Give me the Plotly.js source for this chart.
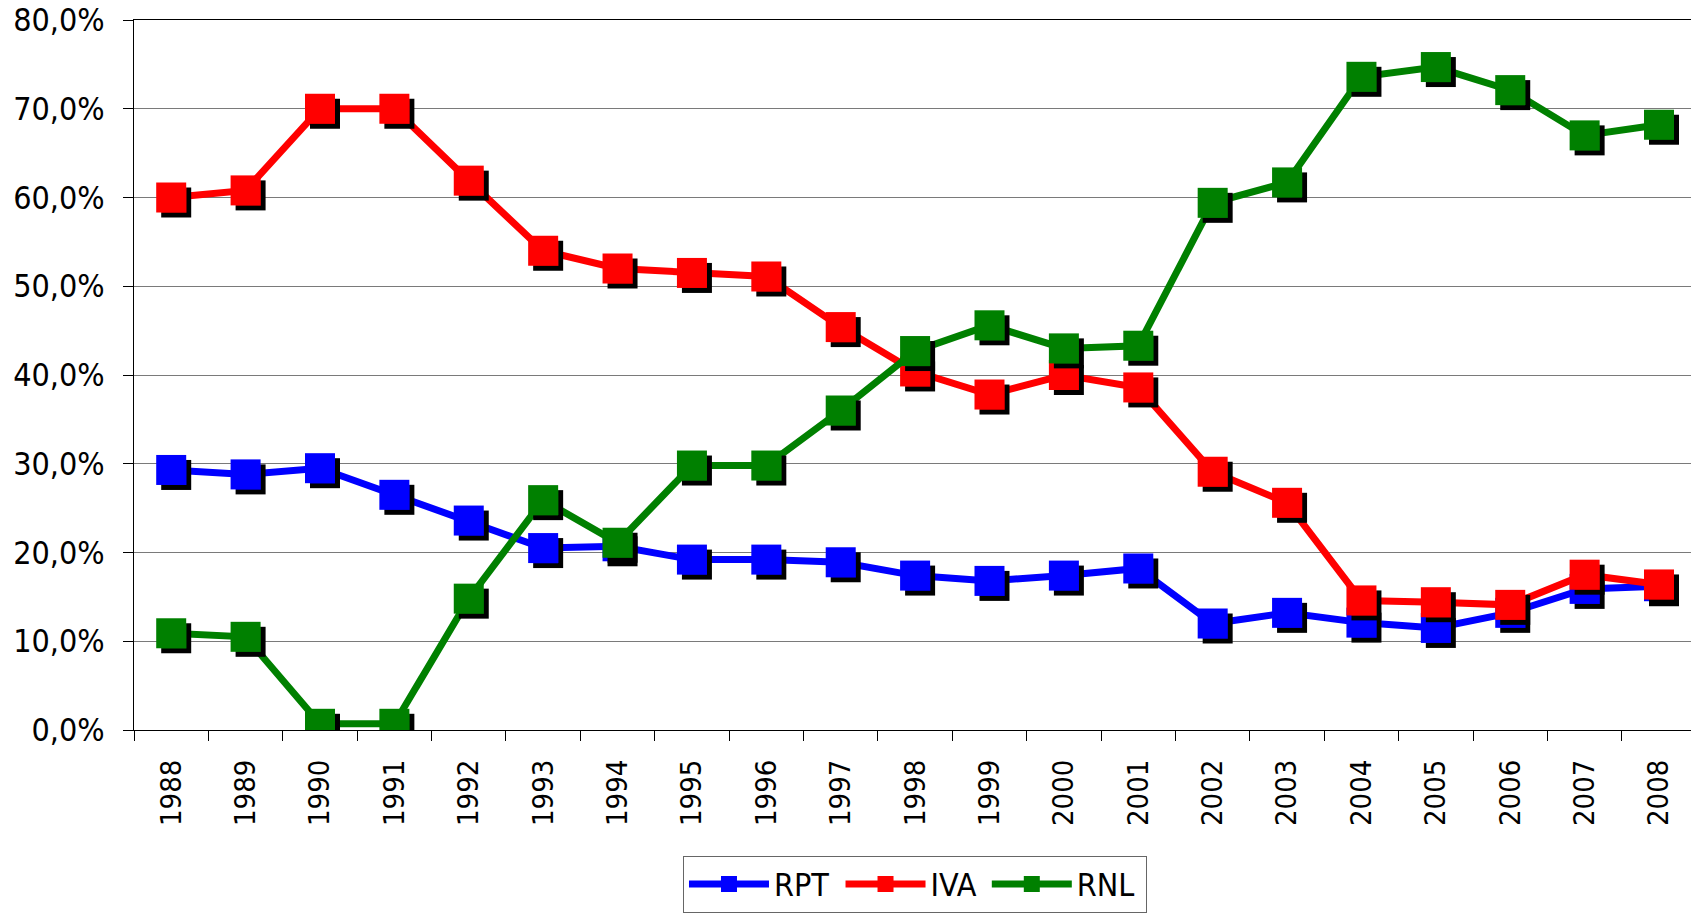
<!DOCTYPE html>
<html>
<head>
<meta charset="utf-8">
<script src="https://cdn.plot.ly/plotly-3.0.1.min.js"></script>
<style>
  html, body { margin: 0; padding: 0; background: #fff; }
  #chart { width: 1691px; height: 913px; }
  #chart svg text { font-stretch: condensed !important; }
</style>
</head>
<body>
<div id="chart"></div>
<script>
const years = ["1988","1989","1990","1991","1992","1993","1994","1995","1996","1997","1998",
               "1999","2000","2001","2002","2003","2004","2005","2006","2007","2008"];
const rpt = [29.3, 28.8, 29.5, 26.5, 23.6, 20.5, 20.7, 19.2, 19.2, 18.9, 17.4,
             16.8, 17.4, 18.2, 12.0, 13.2, 12.1, 11.5, 13.2, 15.9, 16.2];
const iva = [60.0, 60.8, 70.0, 70.0, 61.9, 54.0, 52.0, 51.5, 51.1, 45.4, 40.4,
             37.8, 40.0, 38.6, 29.1, 25.6, 14.6, 14.4, 14.1, 17.5, 16.4];
const rnl = [10.9, 10.5, 0.7, 0.7, 14.8, 25.9, 21.1, 29.8, 29.8, 36.0, 42.7,
             45.6, 43.0, 43.3, 59.4, 61.7, 73.6, 74.7, 72.1, 67.0, 68.2];
const seriesNames = ["RPT", "IVA", "RNL"];
const seriesColors = ["#0000FF", "#FF0000", "#008000"];
const seriesValues = [rpt, iva, rnl];
const yTickVals = [0, 10, 20, 30, 40, 50, 60, 70, 80];
const yTickText = ["0,0%", "10,0%", "20,0%", "30,0%", "40,0%", "50,0%", "60,0%", "70,0%", "80,0%"];

const FONT = '"DejaVu Sans", sans-serif';
const FS = 32;

const traces = seriesNames.map((name, i) => ({
  type: 'scatter',
  mode: 'lines+markers',
  name: name,
  x: years,
  y: seriesValues[i],
  line: { color: seriesColors[i], width: 7 },
  marker: { symbol: 'square', size: 30, color: seriesColors[i] }
}));

const layout = {
  width: 1691,
  height: 913,
  margin: { l: 134, r: 0, t: 20, b: 181 },
  paper_bgcolor: '#fff',
  plot_bgcolor: '#fff',
  showlegend: true,
  font: { family: FONT, size: FS, color: '#000' },
  xaxis: {
    type: 'category',
    range: [-0.5, 20.43],
    tickson: 'boundaries',
    ticks: 'outside',
    ticklen: 10,
    tickcolor: '#000',
    tickwidth: 1,
    tickangle: -90,
    showgrid: false,
    showline: true,
    linecolor: '#000',
    linewidth: 1,
    mirror: true,
    zeroline: false,
    tickfont: { family: FONT, size: 29, color: '#000' },
    ticklabelstandoff: 17
  },
  yaxis: {
    range: [0, 80],
    tickmode: 'array',
    tickvals: yTickVals,
    ticktext: yTickText,
    ticks: 'outside',
    ticklen: 10,
    tickcolor: '#000',
    showgrid: true,
    gridcolor: '#7a7a7a',
    gridwidth: 1,
    showline: true,
    linecolor: '#000',
    linewidth: 1,
    zeroline: false,
    tickfont: { family: FONT, size: FS, color: '#000' },
    ticklabelstandoff: 12
  },
  legend: {
    orientation: 'h',
    x: 0.5016,
    xanchor: 'center',
    y: -0.177,
    yanchor: 'top',
    bordercolor: '#666',
    borderwidth: 1,
    bgcolor: '#fff',
    font: { family: FONT, size: FS, color: '#000' },
    itemwidth: 80,
    tracegroupgap: 0
  }
};

Plotly.newPlot('chart', traces, layout, { displayModeBar: false, staticPlot: true }).then(gd => {
  const svg = gd.querySelector('svg.main-svg');
  const ns = 'http://www.w3.org/2000/svg';
  let defs = svg.querySelector('defs');
  if (!defs) { defs = document.createElementNS(ns, 'defs'); svg.insertBefore(defs, svg.firstChild); }
  const f = document.createElementNS(ns, 'filter');
  f.setAttribute('id', 'mkshadow');
  f.setAttribute('x', '-0.2'); f.setAttribute('y', '-0.2');
  f.setAttribute('width', '1.4'); f.setAttribute('height', '1.4');
  const ds = document.createElementNS(ns, 'feDropShadow');
  ds.setAttribute('dx', '5'); ds.setAttribute('dy', '5');
  ds.setAttribute('stdDeviation', '0');
  ds.setAttribute('flood-color', '#000'); ds.setAttribute('flood-opacity', '1');
  f.appendChild(ds);
  defs.appendChild(f);
  gd.querySelectorAll('.cartesianlayer .scatterlayer .trace .points').forEach(g => {
    g.setAttribute('filter', 'url(#mkshadow)');
  });
});
</script>
</body>
</html>
